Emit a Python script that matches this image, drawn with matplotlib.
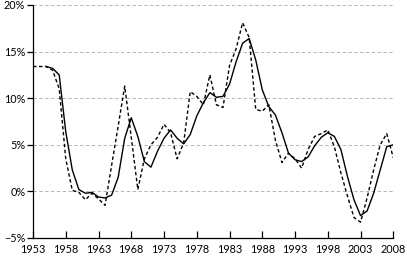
import matplotlib
matplotlib.use("Agg")
import matplotlib.pyplot as plt

# ---- data ----
years_dashed = list(range(1953, 2009))
dashed = [13.4, 13.4, 13.4, 13.0, 11.0, 3.5, 0.1, -0.1, -0.9, -0.2,
          -0.8, -1.5, 2.8, 7.0, 11.3, 5.8, 0.2, 3.5, 5.0, 5.8,
          7.2, 6.3, 3.5, 5.2, 10.7, 10.2, 9.3, 12.5, 9.3, 9.0,
          13.5, 15.3, 18.1, 16.5, 8.8, 8.6, 9.3, 5.5, 3.1, 4.1,
          3.5, 2.5, 4.5, 5.9, 6.2, 6.6, 4.8, 2.0, -0.5, -2.8,
          -3.3, -0.7, 2.3, 5.0, 6.2, 3.6]

years_solid = list(range(1955, 2009))
solid = [13.4, 13.2, 12.5, 6.4, 2.3, 0.2, -0.2, -0.1, -0.6, -0.7,
         -0.4, 1.5, 5.7, 7.9, 5.9, 3.2, 2.6, 4.3, 5.7, 6.6,
         5.7, 5.1, 6.1, 8.1, 9.5, 10.6, 10.1, 10.2, 11.5, 13.9,
         15.9, 16.4, 14.1, 10.9, 9.1, 8.2, 6.3, 4.1, 3.4, 3.2,
         3.7, 4.9, 5.8, 6.3, 5.9, 4.5, 1.6, -0.9, -2.6, -2.1,
         -0.2, 2.3, 4.8, 5.0]

xticks = list(range(1953, 2009, 5))
yticks = [-5, 0, 5, 10, 15, 20]
ytick_labels = ["\u22125%", "0%", "5%", "10%", "15%", "20%"]

# ---- figure ----
plt.rcParams['font.family'] = ['Lato', 'DejaVu Sans']
fig = plt.figure(figsize=(4.07, 2.60), dpi=100)
ax = fig.add_axes([33/407, 1 - 238/260, (393.3 - 33)/407, (238 - 5)/260])

for v in yticks[1:]:
    ax.axhline(v, color='#a8a8a8', lw=0.6, ls=(0, (4, 3)), zorder=1)

ax.plot(years_dashed, dashed, color='black', lw=1.0, ls=(0, (2.5, 1.8)), zorder=3)
ax.plot(years_solid, solid, color='black', lw=1.0, ls='-', zorder=3)

ax.set_xlim(1953, 2008)
ax.set_ylim(-5, 20)
ax.set_xticks(xticks)
ax.set_xticklabels([str(x) for x in xticks])
ax.set_yticks(yticks)
ax.set_yticklabels(ytick_labels)

for s in ['top', 'right']:
    ax.spines[s].set_visible(False)
for s in ['left', 'bottom']:
    ax.spines[s].set_linewidth(0.9)
    ax.spines[s].set_color('black')

ax.tick_params(axis='x', direction='in', length=5, width=0.9, pad=4, labelsize=7.8, colors='black')
ax.tick_params(axis='y', direction='out', length=4, width=0.9, pad=1.5, labelsize=7.8, colors='black')

fig.savefig("out.png", dpi=100)
